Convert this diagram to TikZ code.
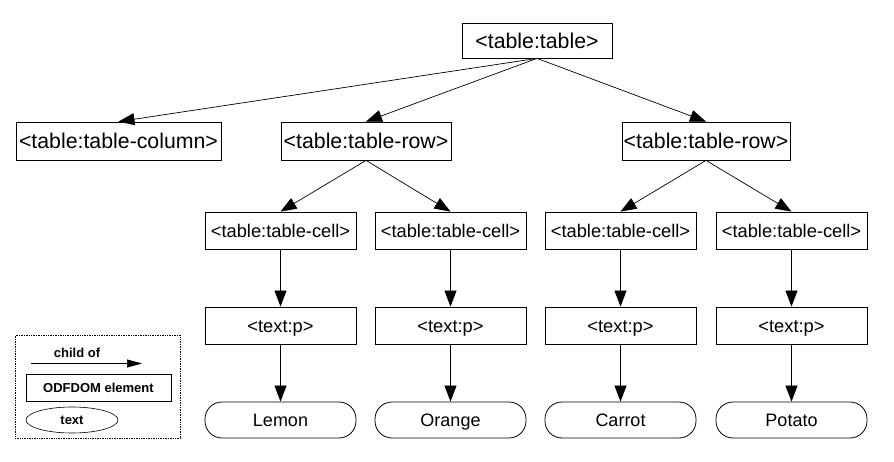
\documentclass[tikz,border=0pt]{standalone}
\usepackage{fontspec}
\setmainfont{Liberation Sans}
\usetikzlibrary{arrows.meta,shapes.geometric}
\tikzset{
  elem/.style={draw, line width=0.8pt, inner sep=0pt, minimum height=37pt},
  big/.style={font=\fontsize{21.3}{24}\selectfont, text height=15.2pt, text depth=0pt},
  small/.style={font=\fontsize{18.3}{21}\selectfont, text height=13.1pt, text depth=0pt},
  txt/.style={draw, line width=0.8pt, rounded corners=17pt, minimum width=151pt, minimum height=36pt, inner sep=0pt, font=\fontsize{18}{21}\selectfont, text height=12.9pt, text depth=0pt},
  link/.style={line width=0.7pt, -{Triangle[length=16pt,width=12pt]}},
  leg/.style={font=\fontsize{13}{15}\selectfont\bfseries, text height=9.3pt, text depth=0pt}
}
\begin{document}
\begin{tikzpicture}[x=1pt,y=-1pt]
\useasboundingbox (0,0) rectangle (894,462);
\fill[white] (0,0) rectangle (894,462);
% nodes
\node[elem,big,minimum width=150pt,minimum height=35pt] (root) at (537,40.5) {<table:table>};
\node[elem,big,minimum width=205pt,minimum height=38pt] (col) at (118.5,141) {<table:table-column>};
\node[elem,big,minimum width=170pt,minimum height=38pt] (row1) at (366,141) {<table:table-row>};
\node[elem,big,minimum width=168pt,minimum height=38pt] (row2) at (706,141) {<table:table-row>};
\foreach \i/\x in {1/280.5,2/450.5,3/620.5,4/791.5}{
  \node[elem,small,minimum width=151pt] (cell\i) at (\x,230.5) {<table:table-cell>};
  \node[elem,small,minimum width=151pt] (p\i) at (\x,325.5) {<text:p>};
}
\node[txt] (t1) at (280.5,420) {Lemon};
\node[txt] (t2) at (450.5,420) {Orange};
\node[txt] (t3) at (620.5,420) {Carrot};
\node[txt] (t4) at (791.5,420) {Potato};
% connectors
\draw[link] (root.south) -- (col.north);
\draw[link] (root.south) -- (row1.north);
\draw[link] (root.south) -- (row2.north);
\draw[link] (row1.south) -- (cell1.north);
\draw[link] (row1.south) -- (cell2.north);
\draw[link] (row2.south) -- (cell3.north);
\draw[link] (row2.south) -- (cell4.north);
\foreach \i in {1,...,4}{
  \draw[link] (cell\i.south) -- (p\i.north);
  \draw[link] (p\i.south) -- (t\i.north);
}
% legend
\node[draw, densely dotted, line width=0.7pt, minimum width=165pt, minimum height=103pt, inner sep=0pt] (legend) at (97.5,386.5) {};
\coordinate (la) at (31,363.5);
\coordinate (lb) at (142,363.5);
\draw[line width=0.6pt, -{Triangle[length=15pt,width=8pt]}] (la) -- (lb);
\node[leg] (lchild) at (77,353) {child of};
\node[draw, line width=0.7pt, minimum width=145pt, minimum height=27pt, inner sep=0pt, leg] (lelem) at (98.5,387.5) {ODFDOM element};
\node[draw, ellipse, line width=0.6pt, minimum width=92pt, minimum height=26pt, inner sep=0pt, leg] (ltext) at (72,420) {text};
\end{tikzpicture}
\end{document}
